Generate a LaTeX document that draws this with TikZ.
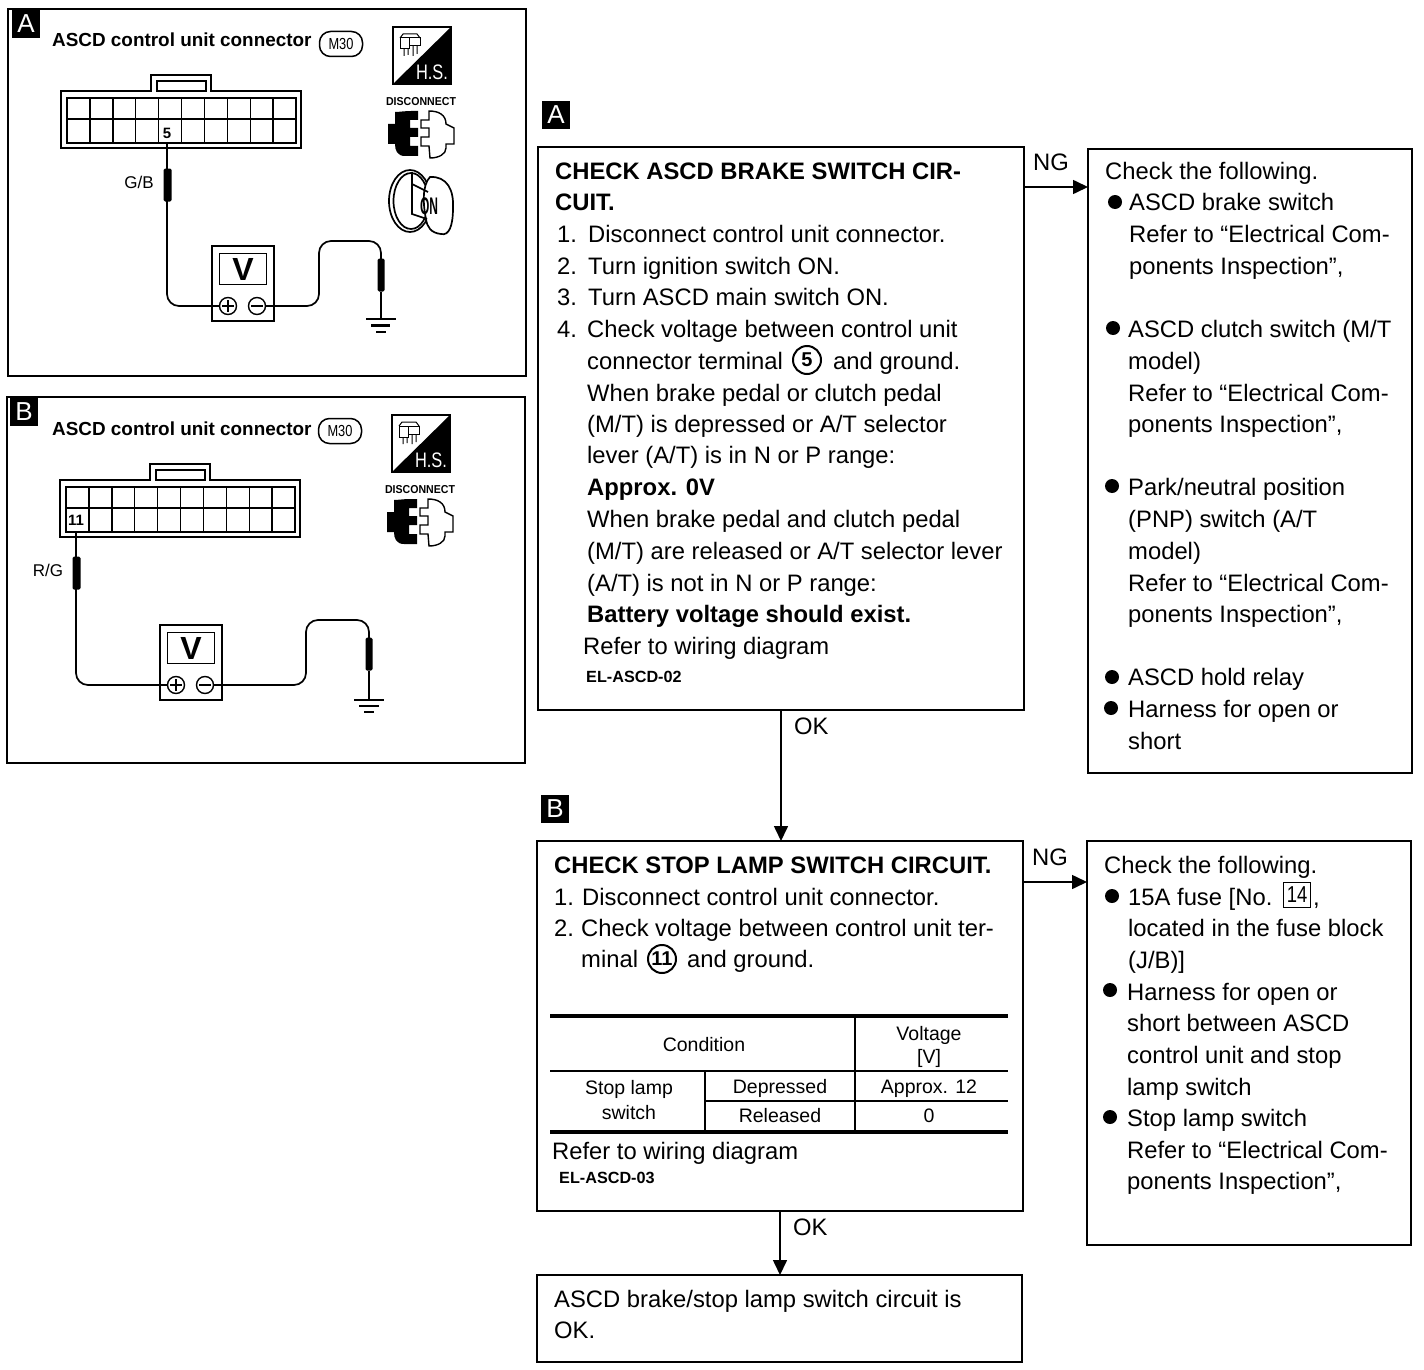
\documentclass[tikz,border=0pt]{standalone}
\usepackage{fontspec}
\setmainfont{Liberation Sans}
\usetikzlibrary{arrows.meta,calc}
\newcommand\myfs[1]{\fontsize{#1}{#1}\selectfont}
\newcount\lnum
\newcommand\tl[3]{\global\advance\lnum by 1 \node[txt] (l\the\lnum) at (#1,#2) {#3};}
\newcommand\tlb[3]{\global\advance\lnum by 1 \node[txt,font=\myfs{23.8}\bfseries] (l\the\lnum) at (#1,#2) {#3};}
\newcommand\tc[3]{\global\advance\lnum by 1 \node[tbl] (l\the\lnum) at (#1,#2) {#3};}
\newcommand\bul[2]{\global\advance\lnum by 1 \node[bulletdot] (l\the\lnum) at (#1,#2) {};}
\tikzset{
 x=1pt,y=-1pt,
 frame/.style={draw,line width=1.6pt,anchor=north west,inner sep=0pt,outer sep=0pt},
 flowbox/.style={draw,line width=1.8pt,anchor=north west,inner sep=0pt,outer sep=0pt},
 txt/.style={anchor=base west,inner sep=0pt,font=\myfs{23.8}},
 tbl/.style={anchor=base,inner sep=0pt,font=\myfs{19.5}},
 bulletdot/.style={circle,fill=black,inner sep=0pt,minimum size=14pt},
 tag/.style={fill=black,text=white,inner sep=0pt,outer sep=0pt,minimum width=28pt,minimum height=28pt,font=\myfs{26}},
 arrowline/.style={line width=1.6pt,-{Triangle[length=15pt,width=14pt]}},
 wire/.style={line width=1.7pt,rounded corners=12pt},
 probe/.style={fill=black,rounded corners=1.5pt,inner sep=0pt,minimum width=8pt,minimum height=33pt},
 meter/.style={draw,line width=1.6pt,anchor=north west,inner sep=0pt,outer sep=0pt,minimum width=62pt,minimum height=75pt},
 screen/.style={draw,line width=1.8pt,inner sep=0pt,outer sep=0pt,minimum width=47pt,minimum height=31pt,font=\myfs{32}\bfseries},
 term/.style={draw,circle,fill=white,line width=1.4pt,inner sep=0pt,outer sep=0pt,minimum size=17pt},
 numcircle/.style={draw,circle,line width=2pt,inner sep=0pt,minimum size=28pt,font=\myfs{20}\bfseries},
 ovaltag/.style={draw,rounded corners=11pt,line width=1.5pt,inner sep=0pt,minimum width=43pt,minimum height=25pt,font=\myfs{16}},
 connector/.pic={
  \draw[line width=1.6pt] (0,0) -- (90,0) -- (90,-16) -- (150,-16) -- (150,0) -- (240,0) -- (240,57) -- (0,57) -- cycle;
  \draw[line width=1.5pt] (96,-10) rectangle (145,0);
  \draw[line width=1.7pt] (6,7) rectangle (235,52);
  \draw[line width=1.5pt] (6,28) -- (235,28);
  \foreach \i in {1,...,9} \draw[line width=1.4pt] (6+22.9*\i,7) -- (6+22.9*\i,52);
 },
 hsicon/.pic={
  \draw[line width=1.6pt] (0,0) rectangle (58,57);
  \fill (58,0) -- (58,57) -- (0,57) -- cycle;
  \draw[line width=1pt] (7,11) rectangle (16,22) (16,11) rectangle (27,19);
  \draw[line width=1pt] (7,11) -- (10,7) -- (24,7) -- (27,11) (11,22) -- (11,29) (15,22) -- (15,28) (20,19) -- (20,29) (24,19) -- (24,27);
  \node[text=white,inner sep=0pt,font=\myfs{21}] at (39,45) {\scalebox{.78}[1]{H.S.}};
 },
 plugicon/.pic={
  \node[inner sep=0pt,font=\myfs{11.5}\bfseries] at (34,-10) {\scalebox{.92}[1]{DISCONNECT}};
  \fill (8,0) .. controls (12,0) and (18,-1) .. (24,-1) -- (31,-1) -- (31,8) -- (23,8) -- (23,16) -- (31,16) -- (31,25) -- (23,25) -- (23,34) -- (31,34) -- (31,44) -- (18,44) .. controls (10,44) and (8,38) .. (8,32) -- (1,32) -- (1,12) -- (8,12) -- cycle;
  \draw[line width=1.4pt,fill=white] (42,-1) .. controls (52,-1) and (59,3) .. (59,12) -- (67,16) -- (67,32) -- (59,32) -- (59,36) .. controls (59,42) and (52,46) .. (43,46) -- (42,34) -- (34,34) -- (34,25) -- (42,25) -- (42,16) -- (34,16) -- (34,8) -- (42,8) -- cycle;
 }
}
\begin{document}
\begin{tikzpicture}
\useasboundingbox (0,0) rectangle (1424,1370);
% ---------- panel A
\node[frame,minimum width=518pt,minimum height=367pt] (panelA) at (8,9) {};
\node[tag,anchor=north west] (tagA) at (12,10) {A};
\node[inner sep=0pt,anchor=base west,font=\myfs{18.9}\bfseries] (titleA) at (52,47) {ASCD control unit connector};
\node[ovaltag] (ovalA) at (341,44) {\scalebox{.8}[1]{M30}};
\pic at (61,91) {connector};
\node[inner sep=0pt,font=\myfs{15}\bfseries] (fiveA) at (167,133) {5};
\pic at (393,27) {hsicon};
\pic at (387,112) {plugicon};
\coordinate (pinA) at (167,143);
\node[probe] (probeA) at (167.5,185) {};
\node[inner sep=0pt,font=\myfs{17}] (gbA) at (139,182) {G/B};
\node[meter] (meterA) at (212,246) {};
\node[screen] (screenA) at (243,269) {V};
\node[term] (plusA) at (228,306) {};
\node[term] (minusA) at (257,306) {};
\draw[line width=1.4pt] (222,306) -- (234,306) (228,300) -- (228,312) (251,306) -- (263,306);
\draw[wire] (pinA) -- (pinA |- plusA.west) -- (plusA.west);
\coordinate (gndA) at (381,319);
\draw[wire] (minusA.east) -- (319,306) -- (319,241) -- (381,241) -- (381,262);
\node[probe,minimum width=7pt] (probe2A) at (381,275) {};
\draw[line width=1.8pt] (probe2A.south) -- (gndA);
\draw[line width=2.2pt] (366,319) -- (396,319) (371,325.5) -- (390,325.5) (376,332) -- (386,332);
% key icon
\begin{scope}[line width=1.7pt]
 \draw (410,201) ellipse [x radius=21pt,y radius=31pt];
 \draw (411,201) ellipse [x radius=17.5pt,y radius=28pt];
 \draw[fill=white] (430,177) .. controls (447,176) and (454,190) .. (453,208) .. controls (453,226) and (449,236) .. (441,234) .. controls (431,233) and (427,227) .. (426,219) .. controls (423,205) and (422,185) .. (430,177) -- cycle;
 \draw (412,172) -- (412,214) -- (427,219) (412,184) -- (428,192);
\end{scope}
\node[inner sep=0pt,font=\myfs{20}\bfseries] (onA) at (429,206) {\scalebox{.6}[1.2]{ON}};
% ---------- panel B
\node[frame,minimum width=518pt,minimum height=366pt] (panelB) at (7,397) {};
\node[tag,anchor=north west] (tagB) at (10,398) {B};
\node[inner sep=0pt,anchor=base west,font=\myfs{18.9}\bfseries] (titleB) at (52,435) {ASCD control unit connector};
\node[ovaltag] (ovalB) at (340,431) {\scalebox{.8}[1]{M30}};
\pic at (60,480) {connector};
\node[inner sep=0pt,font=\myfs{15}\bfseries] (elevenB) at (76,520) {11};
\pic at (392,415) {hsicon};
\pic at (386,500) {plugicon};
\coordinate (pinB) at (76,532);
\node[probe] (probeB) at (76.5,573) {};
\node[inner sep=0pt,font=\myfs{17}] (rgB) at (48,570) {R/G};
\node[meter] (meterB) at (160,625) {};
\node[screen] (screenB) at (191,648) {V};
\node[term] (plusB) at (176,685) {};
\node[term] (minusB) at (205,685) {};
\draw[line width=1.4pt] (170,685) -- (182,685) (176,679) -- (176,691) (199,685) -- (211,685);
\draw[wire] (pinB) -- (pinB |- plusB.west) -- (plusB.west);
\coordinate (gndB) at (369,700);
\draw[wire] (minusB.east) -- (306,685) -- (306,620) -- (369,620) -- (369,642);
\node[probe,minimum width=7pt] (probe2B) at (369,654) {};
\draw[line width=1.8pt] (probe2B.south) -- (gndB);
\draw[line width=1.5pt] (354,700) -- (384,700) (359,706) -- (379,706) (364,712) -- (374,712);
% ---------- flow boxes
\node[tag,anchor=north west] (tagFA) at (542,101) {A};
\node[tag,anchor=north west] (tagFB) at (541,795) {B};
\node[flowbox,minimum width=486pt,minimum height=563pt] (boxA) at (538,147) {};
\node[flowbox,minimum width=324pt,minimum height=624pt] (boxNA) at (1088,149) {};
\node[flowbox,minimum width=486pt,minimum height=370pt] (boxB) at (537,841) {};
\node[flowbox,minimum width=324pt,minimum height=404pt] (boxNB) at (1087,841) {};
\node[flowbox,minimum width=485pt,minimum height=87pt] (boxEnd) at (537,1275) {};
\coordinate (ngA) at (1024,187);
\coordinate (okA) at (781,710);
\coordinate (ngB) at (1023,882);
\coordinate (okB) at (780,1211);
\draw[arrowline] (ngA) -- (ngA -| boxNA.west);
\draw[arrowline] (okA) -- (okA |- boxB.north);
\draw[arrowline] (ngB) -- (ngB -| boxNB.west);
\draw[arrowline] (okB) -- (okB |- boxEnd.north);
\tl{1033}{171}{NG}
\tl{794}{734}{OK}
\tl{1032}{865}{NG}
\tl{793}{1235}{OK}
% box A
\tlb{555}{179}{CHECK ASCD BRAKE SWITCH CIR-}
\tlb{555}{210}{CUIT.}
\tl{557}{242}{1.}\tl{588}{242}{Disconnect control unit connector.}
\tl{557}{274}{2.}\tl{588}{274}{Turn ignition switch ON.}
\tl{557}{305}{3.}\tl{588}{305}{Turn ASCD main switch ON.}
\tl{557}{337}{4.}\tl{587}{337}{Check voltage between control unit}
\tl{587}{369}{connector terminal}
\node[numcircle] (cfive) at (807,360) {5};
\tl{833}{369}{and ground.}
\tl{587}{401}{When brake pedal or clutch pedal}
\tl{587}{432}{(M/T) is depressed or A/T selector}
\tl{587}{463}{lever (A/T) is in N or P range:}
\tlb{587}{495}{Approx. 0V}
\tl{587}{527}{When brake pedal and clutch pedal}
\tl{587}{559}{(M/T) are released or A/T selector lever}
\tl{587}{591}{(A/T) is not in N or P range:}
\tlb{587}{622}{Battery voltage should exist.}
\tl{583}{654}{Refer to wiring diagram}
\node[txt,font=\myfs{16.2}\bfseries] (refA) at (586,682) {EL-ASCD-02};
% right A
\tl{1105}{179}{Check the following.}
\bul{1115}{202}\tl{1129}{210}{ASCD brake switch}
\tl{1129}{242}{Refer to “Electrical Com-}
\tl{1129}{274}{ponents Inspection”,}
\bul{1113}{328}\tl{1128}{337}{ASCD clutch switch (M/T}
\tl{1128}{369}{model)}
\tl{1128}{401}{Refer to “Electrical Com-}
\tl{1128}{432}{ponents Inspection”,}
\bul{1112}{486}\tl{1128}{495}{Park/neutral position}
\tl{1128}{527}{(PNP) switch (A/T}
\tl{1128}{559}{model)}
\tl{1128}{591}{Refer to “Electrical Com-}
\tl{1128}{622}{ponents Inspection”,}
\bul{1112}{677}\tl{1128}{685}{ASCD hold relay}
\bul{1111}{708}\tl{1128}{717}{Harness for open or}
\tl{1128}{749}{short}
% box B
\tlb{554}{873}{CHECK STOP LAMP SWITCH CIRCUIT.}
\tl{554}{905}{1.}\tl{582}{905}{Disconnect control unit connector.}
\tl{554}{936}{2.}\tl{581}{936}{Check voltage between control unit ter-}
\tl{581}{967}{minal}
\node[numcircle] (celeven) at (662,959) {11};
\tl{687}{967}{and ground.}
% table
\draw[line width=3.4pt] (550,1016) -- (1008,1016) (550,1132) -- (1008,1132);
\draw[line width=1.6pt] (550,1071) -- (1008,1071) (705,1101) -- (1008,1101) (855,1016) -- (855,1132) (705,1071) -- (705,1132);
\tc{704}{1051}{Condition}
\tc{929}{1040}{Voltage}
\tc{929}{1063}{[V]}
\tc{629}{1094}{Stop lamp}
\tc{629}{1119}{switch}
\tc{780}{1093}{Depressed}
\tc{780}{1122}{Released}
\tc{929}{1093}{Approx. 12}
\tc{929}{1122}{0}
\tl{552}{1159}{Refer to wiring diagram}
\node[txt,font=\myfs{16.2}\bfseries] (refB) at (559,1183) {EL-ASCD-03};
% right B
\tl{1104}{873}{Check the following.}
\bul{1112}{896}\tl{1128}{905}{15A fuse [No.}
\node[draw,line width=1pt,inner sep=0pt,minimum width=27pt,minimum height=25pt,font=\myfs{23}] (boxfourteen) at (1297,895) {\scalebox{.8}[1]{14}};
\tl{1313}{905}{,}
\tl{1128}{936}{located in the fuse block}
\tl{1128}{968}{(J/B)]}
\bul{1110}{990}\tl{1127}{1000}{Harness for open or}
\tl{1127}{1031}{short between ASCD}
\tl{1127}{1063}{control unit and stop}
\tl{1127}{1095}{lamp switch}
\bul{1110}{1117}\tl{1127}{1126}{Stop lamp switch}
\tl{1127}{1158}{Refer to “Electrical Com-}
\tl{1127}{1189}{ponents Inspection”,}
% end
\tl{554}{1307}{ASCD brake/stop lamp switch circuit is}
\tl{554}{1338}{OK.}
\end{tikzpicture}
\end{document}
